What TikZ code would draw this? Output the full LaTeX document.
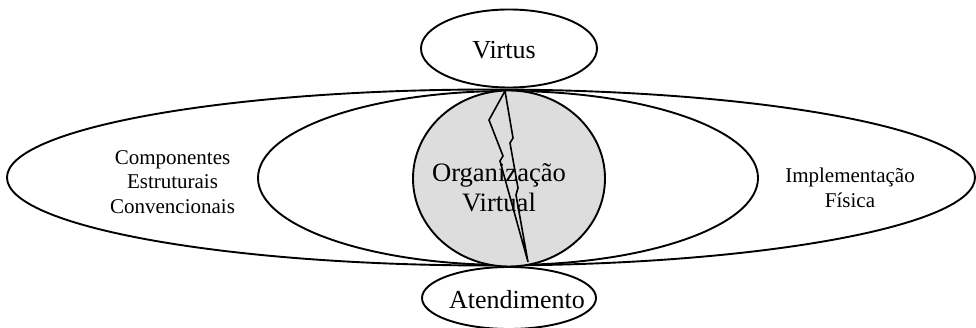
\documentclass[tikz,border=0pt]{standalone}
\usepackage{fontspec}
\setmainfont{Liberation Serif}
\usetikzlibrary{shapes.geometric}
\begin{document}
\begin{tikzpicture}[x=1pt,y=-1pt,
  oval/.style={ellipse,draw=black,line width=1.9pt,inner sep=0pt},
  lbl/.style={align=center,inner sep=0pt,font=\fontsize{21}{24.5}\selectfont},
  big/.style={align=center,inner sep=0pt,font=\fontsize{26.6}{30}\selectfont},
  mid/.style={inner sep=0pt,font=\fontsize{26}{30}\selectfont}]
\useasboundingbox (0,0) rectangle (976,328);
\node[oval,minimum width=968pt,minimum height=176pt] (outer) at (491,177.5) {};
\node[oval,minimum width=500pt,minimum height=174pt] (middle) at (508,178) {};
\node[oval,fill={rgb,255:red,221;green,221;blue,221},minimum width=192pt,minimum height=176pt] (org) at (509,178.5) {};
\draw[line width=1.6pt,line join=miter] (505,91) -- (489,120) -- (503,156) -- (500,161) -- (528,262) -- (516,195) -- (518,188) -- (510,143) -- (513,138) -- cycle;
\node[big] (orgtxt) at (499,188) {Organização\\Virtual};
\node[lbl] (comp) at (172.5,182) {Componentes\\Estruturais\\Convencionais};
\node[lbl] (impl) at (850,188) {Implementação\\Física};
\node[oval,fill=white,minimum width=176pt,minimum height=78pt] (virtus) at (509,48.5) {};
\node[mid] (virtustxt) at (504,50) {Virtus};
\node[oval,fill=white,minimum width=174pt,minimum height=62pt] (atend) at (509,298) {};
\node[mid] (atendtxt) at (517,300) {Atendimento};
\end{tikzpicture}
\end{document}
